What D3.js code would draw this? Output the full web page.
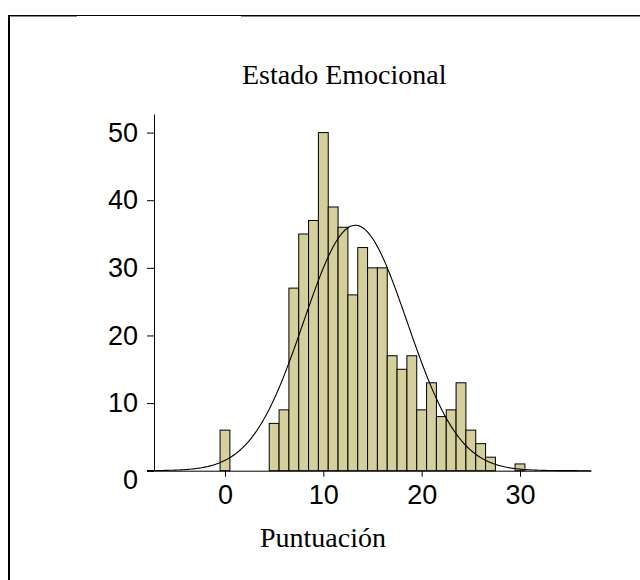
<!DOCTYPE html>
<html>
<head>
<meta charset="utf-8">
<script src="https://cdn.jsdelivr.net/npm/d3@7"></script>
<style>
html,body{margin:0;padding:0;background:#fff;}
svg{display:block;}
</style>
</head>
<body>
<svg id="chart" width="640" height="580"></svg>
<script>
// Data
const scores = [0,5,6,7,8,9,10,11,12,13,14,15,16,17,18,19,20,21,22,23,24,25,26,27,30];
const counts = [6,7,9,27,35,37,50,39,36,26,33,30,30,17,15,17,9,13,8,9,13,6,4,2,1];
const xTicks = [0,10,20,30];
const yTicks = [0,10,20,30,40,50];
const titleText = "Estado Emocional";
const xLabel = "Puntuación";

const svg = d3.select("#chart");

// Frame
svg.append("line").attr("x1",8).attr("x2",640).attr("y1",15.5).attr("y2",15.5)
  .attr("stroke","#000").attr("stroke-width",1);
svg.append("line").attr("x1",8).attr("x2",77).attr("y1",16.5).attr("y2",16.5)
  .attr("stroke","#888").attr("stroke-width",1);
svg.append("line").attr("x1",241).attr("x2",640).attr("y1",16.5).attr("y2",16.5)
  .attr("stroke","#888").attr("stroke-width",1);
svg.append("line").attr("x1",9).attr("x2",9).attr("y1",15).attr("y2",580)
  .attr("stroke","#000").attr("stroke-width",2);

const x = d3.scaleLinear().domain([-7.93, 37.22]).range([147, 591]);
const y = d3.scaleLinear().domain([0, 52.75]).range([470.7, 114]);

// Bars
const data = scores.map((s,i)=>({s, c:counts[i]}));
svg.append("g").selectAll("rect").data(data).join("rect")
  .attr("x", d=>x(d.s-0.5))
  .attr("width", d=>x(d.s+0.5)-x(d.s-0.5))
  .attr("y", d=>y(d.c))
  .attr("height", d=>y(0)-y(d.c))
  .attr("fill","#d4cf9b")
  .attr("stroke","#000")
  .attr("stroke-width",1);

// Normal curve fitted to the data
const N = d3.sum(counts);
const mean = d3.sum(data, d=>d.s*d.c)/N;
const sd = Math.sqrt(d3.sum(data, d=>d.c*(d.s-mean)**2)/(N-1));
const xs = d3.range(0, 401).map(i => x.domain()[0] + (x.domain()[1]-x.domain()[0])*i/400);
const line = d3.line()
  .x(v=>x(v))
  .y(v=>y(N/(sd*Math.sqrt(2*Math.PI))*Math.exp(-0.5*((v-mean)/sd)**2)));
svg.append("path").datum(xs).attr("d", line)
  .attr("fill","none").attr("stroke","#000").attr("stroke-width",1.1);

// Axes
const xAxis = svg.append("g").attr("transform","translate(0,470.7)")
  .call(d3.axisBottom(x).tickValues(xTicks).tickSize(6).tickSizeOuter(0).tickPadding(8).tickFormat(d3.format("d")));
const yAxis = svg.append("g").attr("transform","translate(154,0)")
  .call(d3.axisLeft(y).tickValues(yTicks).tickSize(7).tickSizeOuter(0).tickPadding(9).tickFormat(d3.format("d")));

[xAxis,yAxis].forEach(g=>{
  g.selectAll("path.domain").attr("stroke","#000").attr("stroke-width",1);
  g.selectAll(".tick line").attr("stroke","#000").attr("stroke-width",1);
  g.selectAll("text").attr("font-family","'Liberation Sans', Arial, sans-serif")
    .attr("font-size",27).attr("fill","#000");
});
// zero label on the y axis is placed below the baseline
yAxis.selectAll(".tick").filter(d=>d===0).select("text").attr("dy","0.67em");

// Title and axis title
svg.append("text").attr("x",242).attr("y",84.3)
  .attr("font-family","'Liberation Serif', 'Times New Roman', serif")
  .attr("font-size",28).attr("fill","#000").text(titleText);
svg.append("text").attr("x",323).attr("y",547.3).attr("text-anchor","middle")
  .attr("font-family","'Liberation Serif', 'Times New Roman', serif")
  .attr("font-size",28).attr("fill","#000").text(xLabel);
</script>
</body>
</html>
